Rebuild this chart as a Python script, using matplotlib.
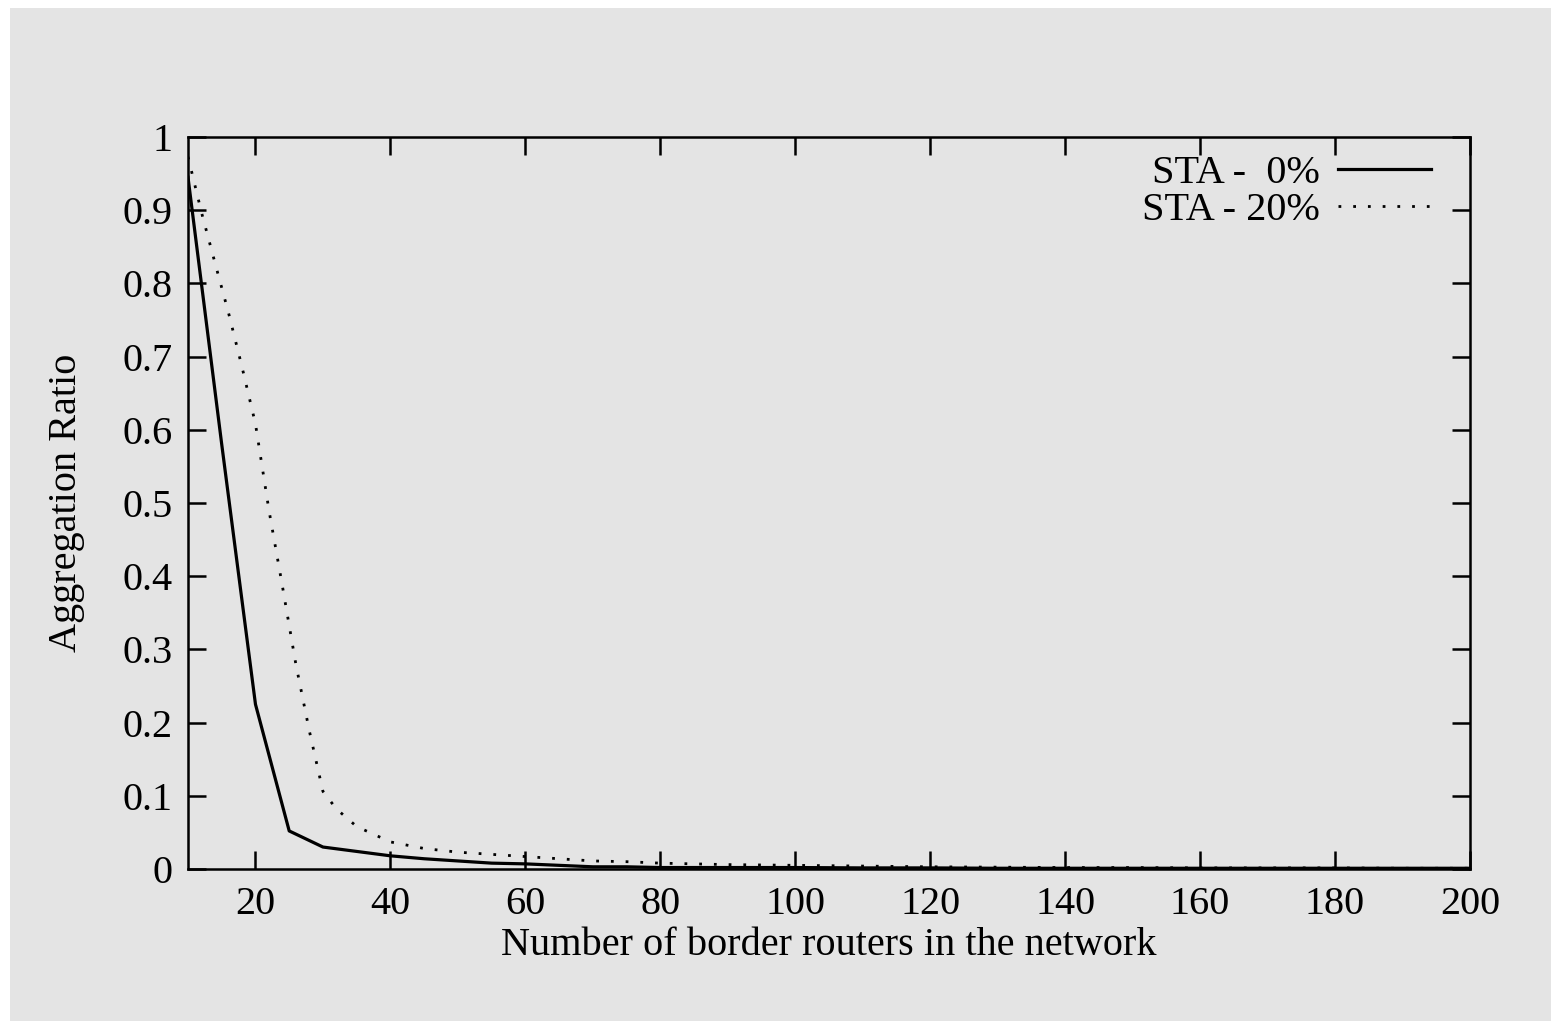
import matplotlib
matplotlib.use("Agg")
import matplotlib.pyplot as plt
from matplotlib.patches import Rectangle

# ===============================
# DATA
# ===============================
x_sta0 = [10, 15, 20, 25, 30, 35, 40, 45, 50, 55, 60, 65, 70, 75, 80, 90, 100,
          110, 120, 130, 140, 150, 160, 170, 180, 190, 200]
y_sta0 = [0.945, 0.58, 0.225, 0.052, 0.030, 0.024, 0.018, 0.014, 0.011, 0.008,
          0.007, 0.005, 0.003, 0.003, 0.002, 0.002, 0.002,
          0.0015, 0.0015, 0.001, 0.001, 0.001, 0.001, 0.001, 0.001, 0.001, 0.001]

x_sta20 = [10, 12, 14, 16, 18, 20, 22, 24, 26, 28, 30, 32, 35, 40, 45, 50, 55,
           60, 65, 70, 75, 80, 90, 100, 110, 120, 130, 140, 150, 160, 170, 180,
           190, 200]
y_sta20 = [0.973, 0.897, 0.828, 0.760, 0.686, 0.608, 0.490, 0.386, 0.279,
           0.188, 0.106, 0.082, 0.058, 0.037, 0.028, 0.023, 0.020, 0.017,
           0.014, 0.011, 0.010, 0.008, 0.006, 0.005, 0.004, 0.003, 0.0025,
           0.002, 0.002, 0.0015, 0.0015, 0.0015, 0.001, 0.001]

labels = ["STA -  0%", "STA - 20%"]
x_ticks = [20, 40, 60, 80, 100, 120, 140, 160, 180, 200]
y_ticks = [0, 0.1, 0.2, 0.3, 0.4, 0.5, 0.6, 0.7, 0.8, 0.9, 1]
y_ticklabels = ["0", "0.1", "0.2", "0.3", "0.4", "0.5", "0.6", "0.7", "0.8", "0.9", "1"]

# ===============================
# PLOT
# ===============================
plt.rcParams["font.family"] = ["Liberation Serif", "DejaVu Serif"]
plt.rcParams["font.size"] = 29

W, H = 1551, 1021
gray = "#e4e4e4"
fig = plt.figure(figsize=(W / 100, H / 100), dpi=100, facecolor="white")
# grey page area (thin white band on the left and top)
fig.patches.append(Rectangle((10 / W, 0), 1, (H - 8) / H, transform=fig.transFigure,
                             facecolor=gray, edgecolor="none", zorder=-10))

ax = fig.add_axes([188 / W, 1 - 869 / H, (1470 - 188) / W, (869 - 137) / H])
ax.set_facecolor(gray)

ax.plot(x_sta0, y_sta0, color="black", lw=2.3, label=labels[0])
ax.plot(x_sta20, y_sta20, color="black", lw=2.0, linestyle=(0, (1, 4.3)),
        label=labels[1])

ax.set_xlim(10, 200)
ax.set_ylim(0, 1)
ax.set_xticks(x_ticks)
ax.set_yticks(y_ticks)
ax.set_yticklabels(y_ticklabels)

for s in ax.spines.values():
    s.set_linewidth(1.8)
ax.tick_params(direction="in", length=13, width=1.8, top=True, right=True)
ax.tick_params(axis="x", pad=12)
ax.tick_params(axis="y", pad=11)

ax.set_xlabel("Number of border routers in the network", labelpad=3)
ax.set_ylabel("Aggregation Ratio", labelpad=27)

ax.legend(loc="upper right", frameon=False, markerfirst=False,
          handlelength=2.3, handletextpad=0.45, labelspacing=0.0,
          borderaxespad=0.0, bbox_to_anchor=(0.982, 0.998))

fig.savefig("out.png", dpi=100, facecolor="white")
